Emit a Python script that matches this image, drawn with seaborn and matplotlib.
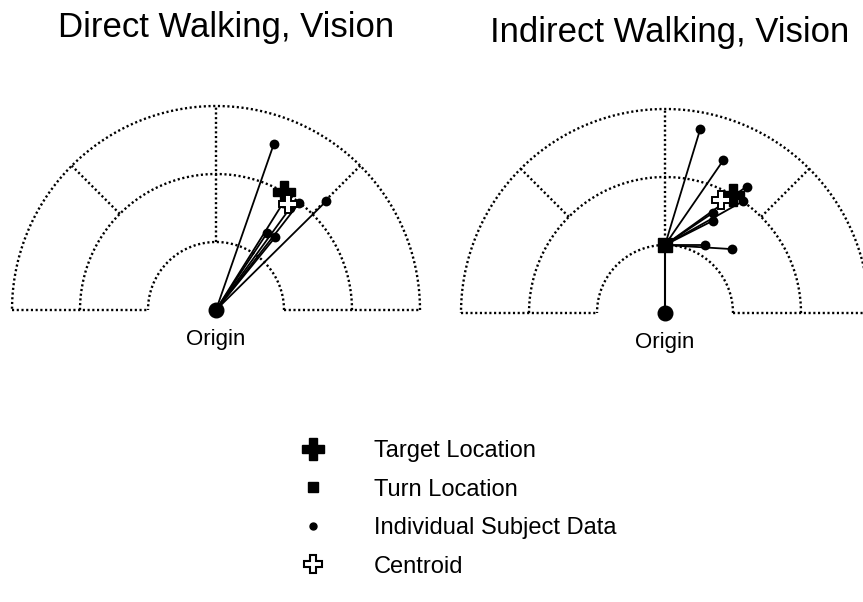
import numpy as np
import seaborn as sns
import matplotlib.pyplot as plt
from matplotlib.lines import Line2D

# values in units of the inner ring radius, origin at (0, 0), y = straight ahead
target_x, target_y = 1.0, 1.73
turn_x, turn_y = 0.0, 1.0

direct_x = [0.85, 1.62, 0.75, 0.87, 0.99, 1.09, 1.22]
direct_y = [2.44, 1.60, 1.13, 1.07, 1.58, 1.50, 1.57]
direct_centroid = (1.06, 1.56)

indirect_x = [0.52, 0.86, 0.70, 0.71, 0.59, 0.98, 1.20, 1.14]
indirect_y = [2.71, 2.25, 1.47, 1.36, 1.00, 0.94, 1.86, 1.64]
indirect_centroid = (0.83, 1.66)

ring_radii = [1, 2, 3]
spoke_angles = [45, 90, 135]
spoke_start = [2, 1, 2]

titles = ["Direct Walking, Vision", "Indirect Walking, Vision"]
legend_labels = ["Target Location", "Turn Location", "Individual Subject Data", "Centroid"]

sns.set_theme(style="white")
plt.rcParams['font.family'] = ['Liberation Sans', 'DejaVu Sans']
plt.rcParams['text.color'] = 'black'

W, H = 863, 602
PX = 68  # pixels per unit
fig = plt.figure(figsize=(W / 100, H / 100), dpi=100)


def make_axes(ox, oy):
    # place an axes so that the origin sits at pixel (ox, oy)
    x0, x1, y0, y1 = -3.15, 3.15, -0.6, 3.2
    left = (ox + x0 * PX) / W
    bottom = 1 - (oy - y0 * PX) / H
    ax = fig.add_axes([left, bottom, (x1 - x0) * PX / W, (y1 - y0) * PX / H])
    ax.set_xlim(x0, x1)
    ax.set_ylim(y0, y1)
    ax.set_axis_off()
    return ax


def draw_grid(ax):
    dots = dict(color='black', lw=1.7, ls=(0, (0.9, 1.1)), zorder=1)
    th = np.linspace(0, np.pi, 300)
    for r in ring_radii:
        ax.plot(r * np.cos(th), r * np.sin(th), **dots)
    for a, r0 in zip(spoke_angles, spoke_start):
        t = np.radians(a)
        ax.plot([r0 * np.cos(t), 3 * np.cos(t)], [r0 * np.sin(t), 3 * np.sin(t)], **dots)
    ax.plot([-3, -1], [0, 0], **dots)
    ax.plot([1, 3], [0, 0], **dots)


def draw_common(ax, xs, ys, centroid, label_y):
    sns.scatterplot(x=xs, y=ys, ax=ax, color='black', s=50, edgecolor='black',
                    linewidth=0, zorder=4, legend=False)
    ax.plot([0], [0], 'o', color='black', ms=10.5, zorder=5)
    ax.plot([target_x], [target_y], 'P', color='black', ms=16, zorder=6)
    ax.plot([centroid[0]], [centroid[1]], 'P', mfc='white', mec='black', mew=1.4,
            ms=13, zorder=7)
    ax.text(0, label_y, "Origin", ha='center', va='center', fontsize=16, color='black')


# direct walking
ax1 = make_axes(216, 310)
draw_grid(ax1)
for x, y in zip(direct_x, direct_y):
    ax1.plot([0, x], [0, y], color='black', lw=1.3, zorder=3)
draw_common(ax1, direct_x, direct_y, direct_centroid, -0.43)

# indirect walking, via the turn point
ax2 = make_axes(665, 313)
draw_grid(ax2)
ax2.plot([0, turn_x], [0, turn_y], color='black', lw=1.5, zorder=3)
for x, y in zip(indirect_x, indirect_y):
    ax2.plot([turn_x, x], [turn_y, y], color='black', lw=1.3, zorder=3)
draw_common(ax2, indirect_x, indirect_y, indirect_centroid, -0.43)
ax2.plot([turn_x], [turn_y], 's', color='black', ms=10, zorder=6)

fig.text(226 / W, 1 - 37 / H, titles[0], ha='center', va='baseline', fontsize=25,
         color='black')
fig.text(670 / W, 1 - 42 / H, titles[1], ha='center', va='baseline', fontsize=25,
         color='black')

handles = [
    Line2D([], [], marker='P', color='black', ms=16, ls='none'),
    Line2D([], [], marker='s', color='black', ms=7, ls='none'),
    Line2D([], [], marker='o', color='black', ms=5, ls='none'),
    Line2D([], [], marker='P', mfc='white', mec='black', mew=1.5, ms=13, ls='none'),
]
leg = fig.legend(handles, legend_labels, loc='upper left',
                 bbox_to_anchor=(301 / W, 1 - 440 / H),
                 frameon=False, fontsize=17, handlelength=1.0, handletextpad=2.1,
                 labelspacing=0.7, borderpad=0, borderaxespad=0)
for t in leg.get_texts():
    t.set_color('black')

fig.savefig("out.png", dpi=100)
